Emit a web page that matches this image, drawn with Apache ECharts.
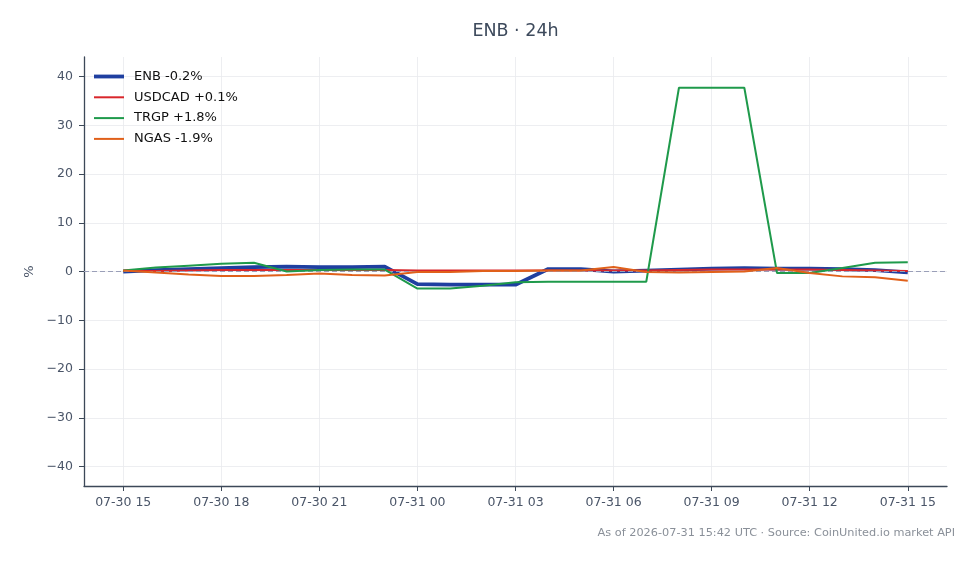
<!DOCTYPE html>
<html>
<head>
<meta charset="utf-8">
<title>ENB · 24h</title>
<script src="https://cdn.jsdelivr.net/npm/echarts@6/dist/echarts.min.js"></script>
<style>
  html, body { margin: 0; padding: 0; background: #fff; }
  #chart { width: 979px; height: 564px; }
</style>
</head>
<body>
<div id="chart"></div>
<script>
// hours since 07-30 15:00, one point per hour
var hours = [0, 1, 2, 3, 4, 5, 6, 7, 8, 9, 10, 11, 12, 13, 14, 15, 16, 17, 18, 19, 20, 21, 22, 23, 24];
var tickHours = [0, 3, 6, 9, 12, 15, 18, 21, 24];
var tickLabels = ["07-30 15", "07-30 18", "07-30 21", "07-31 00", "07-31 03", "07-31 06", "07-31 09", "07-31 12", "07-31 15"];
var yTicks = [-40, -30, -20, -10, 0, 10, 20, 30, 40];

var enb    = [0.0, 0.3, 0.5, 0.7, 0.9, 1.0, 0.9, 0.9, 1.0, -2.6, -2.7, -2.7, -2.7, 0.5, 0.5, 0.0, 0.2, 0.4, 0.6, 0.7, 0.6, 0.6, 0.5, 0.3, -0.2];
var usdcad = [0.1, 0.1, 0.2, 0.3, 0.3, 0.3, 0.3, 0.3, 0.3, 0.2, 0.2, 0.2, 0.2, 0.2, 0.2, 0.2, 0.2, 0.3, 0.4, 0.4, 0.4, 0.4, 0.3, 0.2, 0.1];
var trgp   = [0.2, 0.8, 1.2, 1.6, 1.8, 0.0, 0.3, 0.4, 0.4, -3.5, -3.5, -2.9, -2.2, -2.1, -2.1, -2.1, -2.1, 37.7, 37.7, 37.7, -0.3, -0.3, 0.7, 1.8, 1.9];
var ngas   = [0.2, -0.2, -0.6, -0.9, -0.9, -0.7, -0.4, -0.7, -0.8, -0.1, -0.1, 0.1, 0.1, 0.2, 0.2, 0.9, -0.1, -0.2, -0.1, 0.0, 0.7, -0.3, -1.0, -1.2, -1.9];

var names = ["ENB -0.2%", "USDCAD +0.1%", "TRGP +1.8%", "NGAS -1.9%"];
var colors = ["#1f3fa0", "#d9262b", "#1f9a4b", "#e0601a"];
var widths = [3.8, 2, 2, 2];

var font = "DejaVu Sans";
var axisColor = "#3c4858";

function pairs(vals) {
  return vals.map(function (v, i) { return [hours[i], v]; });
}

var seriesVals = [enb, usdcad, trgp, ngas];
var series = seriesVals.map(function (vals, i) {
  return {
    name: names[i],
    type: "line",
    data: pairs(vals),
    showSymbol: false,
    symbol: "none",
    z: 3 + i,
    lineStyle: { color: colors[i], width: widths[i] },
    itemStyle: { color: colors[i] }
  };
});

// zero reference line
series.push({
  type: "line",
  data: [],
  silent: true,
  z: 2,
  markLine: {
    silent: true,
    symbol: "none",
    label: { show: false },
    lineStyle: { color: "#9a9fb8", type: [5, 3], width: 1 },
    data: [{ yAxis: 0 }]
  }
});

var legendData = names.map(function (n, i) {
  var h = widths[i];
  return { name: n, icon: "path://M0,0H30V" + h + "H0Z", itemStyle: { color: colors[i] } };
});

var chart = echarts.init(document.getElementById("chart"));
chart.setOption({
  animation: false,
  backgroundColor: "#fff",
  textStyle: { fontFamily: font },
  grid: { left: 84, right: 32, top: 57, bottom: 78 },
  legend: {
    left: 89,
    top: 65,
    orient: "vertical",
    itemWidth: 30,
    itemHeight: 14,
    itemGap: 7.8,
    data: legendData,
    textStyle: { fontFamily: font, fontSize: 13, color: "#111", padding: [0, 0, 0, 5] }
  },
  xAxis: {
    type: "value",
    min: -1.2,
    max: 25.2,
    axisLine: { show: true, onZero: false, lineStyle: { color: axisColor, width: 1.3 } },
    axisTick: { show: true, length: 5, customValues: tickHours, lineStyle: { color: axisColor } },
    axisLabel: {
      customValues: tickHours,
      margin: 10,
      fontSize: 12.5,
      color: "#4a5568",
      fontFamily: font,
      formatter: function (v) { return tickLabels[tickHours.indexOf(v)]; }
    },
    splitLine: { show: true, lineStyle: { color: "#e8eaee", width: 0.8 } }
  },
  yAxis: {
    type: "value",
    min: -44,
    max: 44,
    name: "%",
    nameLocation: "middle",
    nameGap: 47,
    nameTextStyle: { fontSize: 13, color: "#4a5568", fontFamily: font },
    axisLine: { show: true, onZero: false, lineStyle: { color: axisColor, width: 1.3 } },
    axisTick: { show: true, length: 5, customValues: yTicks, lineStyle: { color: axisColor } },
    axisLabel: {
      customValues: yTicks,
      margin: 11,
      fontSize: 12.5,
      color: "#4a5568",
      fontFamily: font,
      formatter: function (v) { return String(v).replace("-", "\u2212"); }
    },
    splitLine: { show: true, lineStyle: { color: "#e8eaee", width: 0.8 } }
  },
  graphic: [
    {
      type: "text",
      x: 515.5,
      y: 31,
      style: {
        text: "ENB · 24h",
        fontFamily: font,
        fontSize: 17.5,
        fill: "#3d4a5c",
        textAlign: "center",
        textVerticalAlign: "middle"
      }
    },
    {
      type: "text",
      x: 955,
      y: 533,
      style: {
        text: "As of 2026-07-31 15:42 UTC · Source: CoinUnited.io market API",
        fontFamily: font,
        fontSize: 11.3,
        fill: "#8a9099",
        textAlign: "right",
        textVerticalAlign: "middle"
      }
    }
  ],
  series: series
});
</script>
</body>
</html>
